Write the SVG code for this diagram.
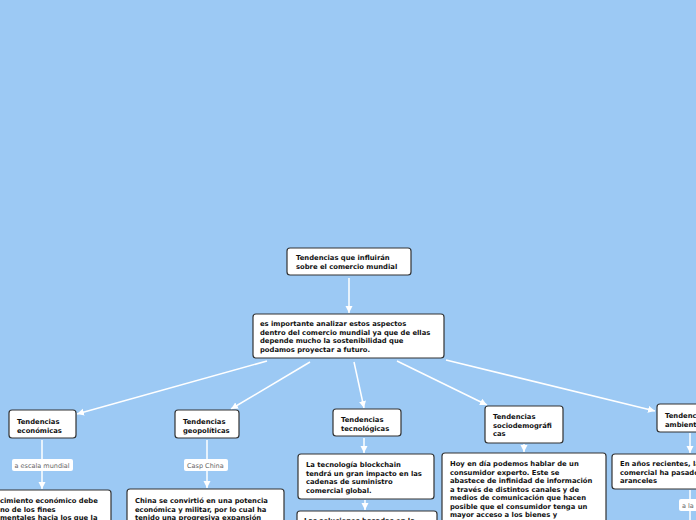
<svg xmlns="http://www.w3.org/2000/svg" width="696" height="520" viewBox="0 0 696 520">
<defs>
<marker id="arr" markerUnits="userSpaceOnUse" markerWidth="8" markerHeight="8" refX="7" refY="3.5" orient="auto">
<path d="M0,0 L7,3.5 L0,7 z" fill="#ffffff"/>
</marker>
<style>
.node{fill:#ffffff;stroke:#333333;stroke-width:1.2}
.t{font-family:"DejaVu Sans",Verdana,sans-serif;font-weight:bold;font-size:6.8px;fill:#111111}
.lbl{fill:#ffffff}
.lt{font-family:"DejaVu Sans",Verdana,sans-serif;font-size:6.5px;fill:#666666}
.c{stroke:#ffffff;stroke-width:1.5;fill:none;marker-end:url(#arr)}
.cn{stroke:#ffffff;stroke-width:1.5;fill:none}
</style>
</defs>
<rect width="696" height="520" fill="#9cc9f4"/>
<g id="connectors">
<line class="c" x1="349" y1="278" x2="349" y2="313"/>
<line class="c" x1="267" y1="361" x2="77" y2="414"/>
<line class="c" x1="310" y1="362" x2="231" y2="409"/>
<line class="c" x1="354" y1="362" x2="364" y2="408"/>
<line class="c" x1="397" y1="361" x2="487" y2="405"/>
<line class="c" x1="446" y1="360" x2="655" y2="411"/>
<line class="c" x1="42" y1="440" x2="42" y2="489"/>
<line class="c" x1="207" y1="440" x2="207" y2="488"/>
<line class="c" x1="364" y1="438" x2="364" y2="453"/>
<line class="c" x1="365" y1="500" x2="365" y2="510"/>
<line class="c" x1="524" y1="444" x2="524" y2="452"/>
<line class="c" x1="690" y1="433" x2="690" y2="453"/>
<line class="cn" x1="690" y1="490" x2="690" y2="520"/>
</g>
<g id="root">
<rect class="node" x="287" y="248" width="124" height="27" rx="3"/>
<text class="t" x="296" y="260">Tendencias que influirán</text>
<text class="t" x="296" y="268.5">sobre el comercio mundial</text>
</g>
<g id="importancia">
<rect class="node" x="253" y="314" width="191" height="44" rx="3"/>
<text class="t" x="260" y="326">es importante analizar estos aspectos</text>
<text class="t" x="260" y="334.5">dentro del comercio mundial ya que de ellas</text>
<text class="t" x="260" y="343">depende mucho la sostenibilidad que</text>
<text class="t" x="260" y="351.5">podamos proyectar a futuro.</text>
</g>
<g id="economicas">
<rect class="node" x="9" y="410" width="67" height="28" rx="3"/>
<text class="t" x="17" y="424">Tendencias</text>
<text class="t" x="17" y="432.5">económicas</text>
</g>
<g id="label-economicas">
<rect class="lbl" x="12" y="459" width="61" height="12" rx="2"/>
<text class="lt" x="14.5" y="467.5">a escala mundial</text>
</g>
<g id="economicas-detalle">
<rect class="node" x="-5" y="490" width="116" height="40" rx="3"/>
<text class="t" x="0" y="503">cimiento económico debe</text>
<text class="t" x="0" y="511.5">no de los fines</text>
<text class="t" x="0" y="520">mentales hacia los que la</text>
</g>
<g id="geopoliticas">
<rect class="node" x="175" y="410" width="64" height="28" rx="3"/>
<text class="t" x="183" y="424">Tendencias</text>
<text class="t" x="183" y="432.5">geopolíticas</text>
</g>
<g id="label-geopoliticas">
<rect class="lbl" x="184" y="459" width="44" height="12" rx="2"/>
<text class="lt" x="187" y="467.5">Casp China</text>
</g>
<g id="geopoliticas-detalle">
<rect class="node" x="127" y="489" width="157" height="40" rx="3"/>
<text class="t" x="135" y="503">China se convirtió en una potencia</text>
<text class="t" x="135" y="511.5">económica y militar, por lo cual ha</text>
<text class="t" x="135" y="520">tenido una progresiva expansión</text>
</g>
<g id="tecnologicas">
<rect class="node" x="333" y="409" width="68" height="27" rx="3"/>
<text class="t" x="341" y="422">Tendencias</text>
<text class="t" x="341" y="430.5">tecnológicas</text>
</g>
<g id="tecnologicas-blockchain">
<rect class="node" x="298" y="454" width="136" height="45" rx="3"/>
<text class="t" x="306" y="467">La tecnología blockchain</text>
<text class="t" x="306" y="475.5">tendrá un gran impacto en las</text>
<text class="t" x="306" y="484">cadenas de suministro</text>
<text class="t" x="306" y="492.5">comercial global.</text>
</g>
<g id="tecnologicas-soluciones">
<rect class="node" x="297" y="511" width="140" height="20" rx="3"/>
<text class="t" x="304" y="522.5">Las soluciones basadas en la</text>
</g>
<g id="sociodemograficas">
<rect class="node" x="485" y="406" width="78" height="37" rx="3"/>
<text class="t" x="493" y="419">Tendencias</text>
<text class="t" x="493" y="427.5">sociodemográfi</text>
<text class="t" x="493" y="436">cas</text>
</g>
<g id="sociodemograficas-detalle">
<rect class="node" x="442" y="453" width="164" height="80" rx="3"/>
<text class="t" x="450" y="466">Hoy en día podemos hablar de un</text>
<text class="t" x="450" y="474.5">consumidor experto. Este se</text>
<text class="t" x="450" y="483">abastece de infinidad de información</text>
<text class="t" x="450" y="491.5">a través de distintos canales y de</text>
<text class="t" x="450" y="500">medios de comunicación que hacen</text>
<text class="t" x="450" y="508.5">posible que el consumidor tenga un</text>
<text class="t" x="450" y="517">mayor acceso a los bienes y</text>
</g>
<g id="ambientales">
<rect class="node" x="657" y="404" width="75" height="28" rx="3"/>
<text class="t" x="665" y="418">Tendencias</text>
<text class="t" x="665" y="426.5">ambientales</text>
</g>
<g id="ambientales-detalle">
<rect class="node" x="612" y="454" width="120" height="35" rx="3"/>
<text class="t" x="620" y="466">En años recientes, la</text>
<text class="t" x="620" y="474.5">comercial ha pasado</text>
<text class="t" x="620" y="483">aranceles</text>
</g>
<g id="label-ambientales">
<rect class="lbl" x="679" y="499" width="30" height="12" rx="2"/>
<text class="lt" x="682" y="507.5">a la</text>
</g>
</svg>
